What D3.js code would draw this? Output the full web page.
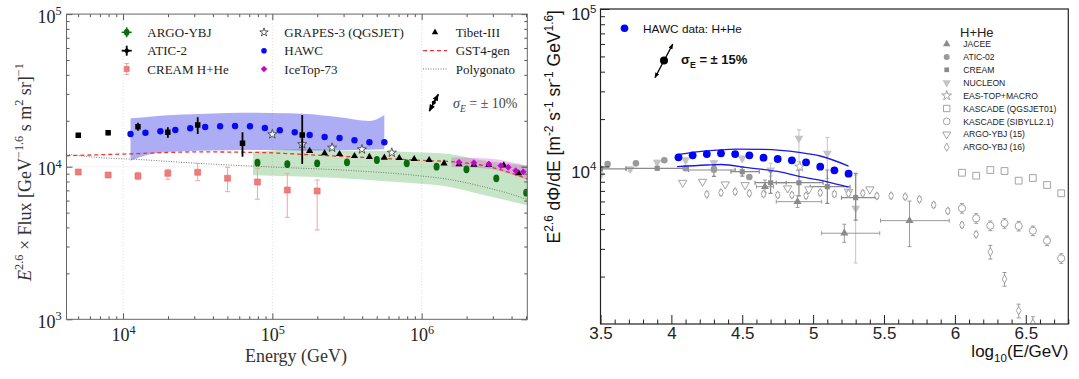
<!DOCTYPE html>
<html>
<head>
<meta charset="utf-8">
<script src="https://cdn.jsdelivr.net/npm/d3@7/dist/d3.min.js"></script>
<style>
  body { margin: 0; background: #fff; }
  svg { display: block; }
  text { white-space: pre; }
</style>
</head>
<body>
<svg id="fig" width="1079" height="379"></svg>
<script>
/* ------- LEFT PANEL DATA (log10 E/GeV, E^2.6 x flux) ------- */
var hawcLE     = [4.05,4.15,4.25,4.35,4.45,4.55,4.65,4.75,4.85,4.95,5.05,5.15,5.25,5.35,5.45,5.55,5.65,5.75];
var hawcFlux   = [16370,16700,17060,17400,17850,18200,18390,18480,18390,17930,17320,16810,16130,15650,15420,14890,14450,14450];
var hawcBandLE = [4.05,4.16,4.3,4.51,4.7,4.89,5.1,5.23,5.45,5.65,5.75];
var hawcBandUp = [20750,21200,21700,22150,22500,22580,22400,22150,21080,19930,21820];
var hawcBandLo = [10940,11930,12500,12730,12800,12860,12800,12730,12800,12900,13000];

var aticLE   = [3.7,3.9,4.1,4.3,4.5,4.8,5.2];
var aticFlux = [16060,16710,18280,16810,18760,14230,16130];
var aticLo   = [15500,16100,17200,15480,16370,11630,10420];
var aticHi   = [16600,17300,19400,18120,21050,16810,21820];

var creamLE   = [3.7,3.9,4.1,4.3,4.5,4.7,4.9,5.1,5.3];
var creamFlux = [9230,8820,8690,9050,9190,8400,7940,7030,6930];
var creamLo   = [8950,8550,8270,8270,8100,6860,6120,4660,3850];
var creamHi   = [9500,9100,9130,9610,10510,9910,9760,9050,8180];

var argoLE     = [4.9,5.1,5.3,5.5,5.7,5.9,6.1,6.3,6.5,6.7];
var argoFlux   = [10620,10410,10520,10690,11060,10520,10000,9610,8390,6760];
var argoBandLE = [4.87,5.25,5.49,5.71,5.95,6.18,6.41,6.71];
var argoBandUp = [12540,13060,12730,12730,12420,12110,10980,10200];
var argoBandLo = [8790,8590,8380,8100,7780,7400,6550,5590];

var tibetLE   = [5.25,5.35,5.45,5.55,5.65,5.75,5.85,5.95,6.05,6.15,6.25,6.35,6.45,6.55,6.65];
var tibetFlux = [12680,12250,12110,11750,11580,11460,11400,11230,11060,10520,10400,10300,10250,10210,9050];

var grapesLE   = [5.0,5.2,5.4,5.6,5.8];
var grapesFlux = [16310,14040,13330,13000,12360];

var icetopLE     = [6.25,6.35,6.45,6.53,6.58,6.63,6.68];
var icetopFlux   = [10690,10620,10410,10150,9910,9420,9270];
var icetopBandLE = [6.2,6.45,6.6,6.71];
var icetopBandUp = [11500,11300,10700,10100];
var icetopBandLo = [10000,9700,8900,8200];

var gstLE   = [3.62,4.0,4.5,4.9,5.3,5.7,6.0,6.25,6.45,6.57,6.71];
var gstFlux = [11800,12100,12500,12400,11900,11400,11000,10700,10000,9300,8300];

var polyLE   = [3.62,3.8,4.1,4.56,5.0,5.5,5.95,6.2,6.41,6.6,6.71];
var polyFlux = [12100,11550,11150,10440,9950,9470,8790,8200,7400,6600,6080];

var leftXTicks = [1e4,1e5,1e6];
var leftYTicks = [1e3,1e4,1e5];

/* ------- RIGHT PANEL DATA (log10 E/GeV, E^2.6 dPhi/dE) ------- */
var rHawcLE   = [4.05,4.15,4.25,4.35,4.45,4.55,4.65,4.75,4.85,4.95,5.05,5.15,5.25];
var rHawcFlux = [11440,11780,12000,12130,12000,11780,11370,11160,10950,10630,9970,9460,9000];
var rHawcUpLE = [4.04,4.25,4.45,4.65,4.9,5.05,5.25];
var rHawcUp   = [11900,12550,12900,12850,12300,11660,10070];
var rHawcLoLE = [4.04,4.25,4.35,4.55,4.75,4.9,5.1,5.25];
var rHawcLo   = [9970,10220,10300,9800,9300,8650,8000,7400];

var rJaceeLE   = [4.66,4.89,5.22,5.68];
var rJaceeFlux = [7450,5980,3770,4530];
var rJaceeXlo  = [4.6,4.74,5.06,5.475];
var rJaceeXhi  = [4.72,5.06,5.47,5.96];
var rJaceeYlo  = [6800,5500,3300,3100];
var rJaceeYhi  = [8200,6500,4300,6030];

var rAticLE   = [3.55,3.75,3.95,4.1,4.3,4.55];
var rAticFlux = [10370,10470,10950,9740,9640,8580];

var rCreamLE   = [3.5,3.9,4.3,4.5,4.7,4.9,5.1,5.3];
var rCreamFlux = [9650,9740,9500,9270,7890,7890,7450,6340];
var rCreamXlo  = [3.5,3.68,4.12,4.42,4.59,4.74,4.98,5.2];
var rCreamXhi  = [3.68,4.12,4.45,4.62,4.81,5.07,5.26,5.45];
var rCreamYlo  = [9400,9500,8650,8700,6760,6500,5840,4570];
var rCreamYhi  = [9900,10000,10200,9900,9270,9500,9500,9050];

var rNucLE   = [3.5,3.71,3.9,4.1,4.3,4.5,4.7,4.9,5.1,5.3];
var rNucFlux = [8830,9640,10630,10990,10570,11270,9500,15100,12130,5430];
var rNucYlo  = [8500,9300,10300,10650,10250,10900,8700,10700,8400,2440];
var rNucYhi  = [9150,9950,10950,11350,10900,11650,10500,17100,15300,8830];

var rEasLE   = [4.906];
var rEasFlux = [9970];

var rKasQLE   = [6.05,6.15,6.25,6.35,6.45,6.55,6.65,6.75];
var rKasQFlux = [9130,8740,9500,9360,8130,8450,7630,6760];
var rKasSLE   = [6.05,6.15,6.25,6.35,6.45,6.55,6.65,6.75];
var rKasSFlux = [5430,4690,4210,4360,4190,3910,3380,2610];

var rArgo15LE   = [4.08,4.22,4.38,4.52,4.82,4.97,5.25,5.4];
var rArgo15Flux = [7890,8010,7710,7630,7270,7170,6920,7170];

var rArgo16LE   = [4.25,4.35,4.45,4.55,4.65,4.75,4.85,4.95,5.05,5.15,5.25,5.35,5.45,5.55,5.65,5.75,5.85,5.95,6.05,6.15,6.25,6.35,6.45,6.55];
var rArgo16Flux = [6660,6820,6920,6760,6690,6590,6590,6520,6820,6690,6750,6760,6500,6520,6430,6190,5700,5220,4250,3710,2870,1930,1215,1010];

var rightXTicks = [3.5,4,4.5,5,5.5,6,6.5];
var rightYTicks = [1e4,1e5];
var rightLegend = ["JACEE","ATIC-02","CREAM","NUCLEON","EAS-TOP+MACRO","KASCADE (QGSJET01)","KASCADE (SIBYLL2.1)","ARGO-YBJ (15)","ARGO-YBJ (16)"];

/* ------- HELPERS ------- */
var SERIF = "'Liberation Serif','Times New Roman',serif";
var SANS  = "'Liberation Sans',Arial,Helvetica,sans-serif";

var svg = d3.select("#fig");
var defs = svg.append("defs");

function zip(a, b, c) { return a.map(function(v, i) { return c ? [v, b[i], c[i]] : [v, b[i]]; }); }

// text with super/subscripts: parts = [[string, "n"|"sup"|"sub", italic]]
function rich(t, parts, fs) {
  var off = 0;
  parts.forEach(function(p) {
    var kind = p[1] || "n";
    var target = kind === "sup" ? -0.42 * fs : (kind === "sub" ? 0.3 * fs : 0);
    var ts = t.append("tspan").text(p[0]).attr("dy", target - off);
    if (kind !== "n") ts.attr("font-size", 0.68 * fs);
    if (p[2]) ts.attr("font-style", "italic");
    off = target;
  });
}

function powLabels(sel, fs) {
  sel.selectAll(".tick text").each(function(d) {
    var t = d3.select(this), e = Math.round(Math.log10(d));
    t.text(null);
    t.append("tspan").text("10");
    t.append("tspan").attr("dy", -0.42 * fs).attr("font-size", 0.68 * fs).text(e);
  });
}

function symbols(g, xs, ys, type, size, fill, stroke, sw, rot) {
  g.append("g").selectAll("path").data(d3.range(xs.length)).join("path")
    .attr("d", d3.symbol().type(type).size(size))
    .attr("transform", function(i) { return "translate(" + xs[i] + "," + ys[i] + ")" + (rot ? " rotate(" + rot + ")" : ""); })
    .attr("fill", fill).attr("stroke", stroke).attr("stroke-width", sw);
}

function ellipses(g, xs, ys, rx, ry, fill) {
  g.append("g").selectAll("ellipse").data(d3.range(xs.length)).join("ellipse")
    .attr("cx", function(i) { return xs[i]; }).attr("cy", function(i) { return ys[i]; })
    .attr("rx", rx).attr("ry", ry).attr("fill", fill);
}

// error bars, pixel coords; any of x0/x1/y0/y1 may be missing
function errBars(g, pts, color, sw, cap) {
  var eg = g.append("g").attr("stroke", color).attr("stroke-width", sw);
  pts.forEach(function(p) {
    if (p.y0 != null) {
      eg.append("line").attr("x1", p.x).attr("x2", p.x).attr("y1", p.y0).attr("y2", p.y1);
      if (cap) [p.y0, p.y1].forEach(function(yy) {
        eg.append("line").attr("x1", p.x - cap).attr("x2", p.x + cap).attr("y1", yy).attr("y2", yy);
      });
    }
    if (p.x0 != null) {
      eg.append("line").attr("x1", p.x0).attr("x2", p.x1).attr("y1", p.y).attr("y2", p.y);
      if (cap) [p.x0, p.x1].forEach(function(xx) {
        eg.append("line").attr("x1", xx).attr("x2", xx).attr("y1", p.y - cap).attr("y2", p.y + cap);
      });
    }
  });
}

defs.append("marker").attr("id", "arr").attr("viewBox", "0 0 10 10")
  .attr("refX", 9).attr("refY", 5).attr("markerWidth", 4.5).attr("markerHeight", 4.5)
  .attr("orient", "auto-start-reverse")
  .append("path").attr("d", "M0,1L10,5L0,9z").attr("fill", "#000");

/* ------- LEFT PANEL ------- */
var L = {x0: 66.5, x1: 527.3, y0: 14.1, y1: 319.3};
var xL = d3.scaleLog().domain([4180, 5.1e6]).range([L.x0, L.x1]);
var yL = d3.scaleLog().domain([1e3, 1e5]).range([L.y1, L.y0]);
var pxL = function(le) { return xL(Math.pow(10, le)); };

defs.append("clipPath").attr("id", "clipL").append("rect")
  .attr("x", L.x0).attr("y", L.y0).attr("width", L.x1 - L.x0).attr("height", L.y1 - L.y0);

var gL = svg.append("g").attr("font-family", SERIF);
var plotL = gL.append("g").attr("clip-path", "url(#clipL)");

// faint grid
plotL.selectAll(".vg").data(leftXTicks).join("line")
  .attr("x1", function(d) { return xL(d); }).attr("x2", function(d) { return xL(d); })
  .attr("y1", L.y0).attr("y2", L.y1)
  .attr("stroke", "#d4d4d4").attr("stroke-width", 0.8).attr("stroke-dasharray", "1,2");
plotL.append("line").attr("x1", L.x0).attr("x2", L.x1).attr("y1", yL(1e4)).attr("y2", yL(1e4))
  .attr("stroke", "#d4d4d4").attr("stroke-width", 0.8).attr("stroke-dasharray", "1,2");

// bands
var bandL = d3.area().x(function(d) { return pxL(d[0]); })
  .y0(function(d) { return yL(d[2]); }).y1(function(d) { return yL(d[1]); })
  .curve(d3.curveMonotoneX);
plotL.append("path").datum(zip(argoBandLE, argoBandUp, argoBandLo)).attr("d", bandL)
  .attr("fill", "#2ca02c").attr("fill-opacity", 0.27);
plotL.append("path").datum(zip(hawcBandLE, hawcBandUp, hawcBandLo)).attr("d", bandL)
  .attr("fill", "#3b3be8").attr("fill-opacity", 0.42);
plotL.append("path").datum(zip(icetopBandLE, icetopBandUp, icetopBandLo)).attr("d", bandL)
  .attr("fill", "#cc33cc").attr("fill-opacity", 0.28);

// model lines
var lineL = d3.line().x(function(d) { return pxL(d[0]); }).y(function(d) { return yL(d[1]); })
  .curve(d3.curveMonotoneX);
plotL.append("path").datum(zip(polyLE, polyFlux)).attr("d", lineL)
  .attr("fill", "none").attr("stroke", "#777").attr("stroke-width", 1).attr("stroke-dasharray", "1,1.5");
plotL.append("path").datum(zip(gstLE, gstFlux)).attr("d", lineL)
  .attr("fill", "none").attr("stroke", "#ee3333").attr("stroke-width", 1.3).attr("stroke-dasharray", "4,3");

// CREAM
errBars(plotL, creamLE.map(function(le, i) {
  return {x: pxL(le), y: yL(creamFlux[i]), y0: yL(creamLo[i]), y1: yL(creamHi[i])};
}), "#f3a3a3", 1, 2.5);
symbols(plotL, creamLE.map(pxL), creamFlux.map(yL), d3.symbolSquare, 36, "#f07b7b", "#e86a6a", 0.6);

// ARGO-YBJ
errBars(plotL, argoLE.map(function(le, i) {
  return {x: pxL(le), y: yL(argoFlux[i]), y0: yL(argoFlux[i] * 0.95), y1: yL(argoFlux[i] * 1.05)};
}), "#0b6a0b", 1.4, 0);
ellipses(plotL, argoLE.map(pxL), argoFlux.map(yL), 3, 3.9, "#0b6a0b");

// HAWC
plotL.append("g").selectAll("circle").data(hawcLE).join("circle")
  .attr("cx", function(d) { return pxL(d); })
  .attr("cy", function(d, i) { return yL(hawcFlux[i]); })
  .attr("r", 3.2).attr("fill", "#0a0af0");

// Tibet-III
symbols(plotL, tibetLE.map(pxL), tibetFlux.map(yL), d3.symbolTriangle, 22, "#000", "none", 0);

// IceTop-73
symbols(plotL, icetopLE.map(pxL), icetopFlux.map(yL), d3.symbolDiamond2, 22, "#cc00cc", "#cc00cc", 0.8);

// GRAPES-3
symbols(plotL, grapesLE.map(pxL), grapesFlux.map(yL), d3.symbolStar, 26, "#fff", "#333", 0.8);

// ATIC-2
errBars(plotL, aticLE.map(function(le, i) {
  return {x: pxL(le), y: yL(aticFlux[i]), y0: yL(aticLo[i]), y1: yL(aticHi[i])};
}), "#000", 1.8, 0);
symbols(plotL, aticLE.map(pxL), aticFlux.map(yL), d3.symbolSquare, 30, "#000", "none", 0);

// legend
var legL = gL.append("g").attr("font-size", 13).attr("fill", "#222");
var rowsL = [32.3, 50.7, 69];
function legText(x, y, s) { legL.append("text").attr("x", x).attr("y", y + 4.5).text(s); }
// column 1
errBars(legL, [{x: 126.7, y: rowsL[0], x0: 121.7, x1: 131.7, y0: rowsL[0] - 5, y1: rowsL[0] + 5}], "#0b6a0b", 1.5, 0);
ellipses(legL, [126.7], [rowsL[0]], 2.8, 3.5, "#0b6a0b");
legText(147.3, rowsL[0], "ARGO-YBJ");
errBars(legL, [{x: 126.7, y: rowsL[1], x0: 121.7, x1: 131.7, y0: rowsL[1] - 5, y1: rowsL[1] + 5}], "#000", 1.8, 0);
symbols(legL, [126.7], [rowsL[1]], d3.symbolDiamond2, 24, "#000", "none", 0);
legText(147.3, rowsL[1], "ATIC-2");
errBars(legL, [{x: 126.7, y: rowsL[2], y0: rowsL[2] - 5.5, y1: rowsL[2] + 5.5}], "#f3a3a3", 1, 2.2);
symbols(legL, [126.7], [rowsL[2]], d3.symbolSquare, 26, "#f07b7b", "#e86a6a", 0.6);
legText(147.3, rowsL[2], "CREAM H+He");
// column 2
symbols(legL, [264], [rowsL[0]], d3.symbolStar, 22, "#fff", "#333", 0.8);
legText(284.3, rowsL[0], "GRAPES-3 (QGSJET)");
legL.append("circle").attr("cx", 264).attr("cy", rowsL[1]).attr("r", 2.8).attr("fill", "#0a0af0");
legText(284.3, rowsL[1], "HAWC");
symbols(legL, [264], [rowsL[2]], d3.symbolDiamond2, 20, "#cc00cc", "#cc00cc", 0.8);
legText(284.3, rowsL[2], "IceTop-73");
// column 3
symbols(legL, [435], [rowsL[0]], d3.symbolTriangle, 18, "#000", "none", 0);
legText(455.7, rowsL[0], "Tibet-III");
legL.append("line").attr("x1", 423).attr("x2", 447).attr("y1", rowsL[1]).attr("y2", rowsL[1])
  .attr("stroke", "#ee3333").attr("stroke-width", 1.3).attr("stroke-dasharray", "4,3");
legText(455.7, rowsL[1], "GST4-gen");
legL.append("line").attr("x1", 423).attr("x2", 447).attr("y1", rowsL[2]).attr("y2", rowsL[2])
  .attr("stroke", "#777").attr("stroke-width", 1).attr("stroke-dasharray", "1,1.5");
legText(455.7, rowsL[2], "Polygonato");

// energy resolution marker
gL.append("line").attr("x1", 429.3).attr("y1", 111).attr("x2", 438.3).attr("y2", 94.3)
  .attr("stroke", "#000").attr("stroke-width", 1.6)
  .attr("marker-start", "url(#arr)").attr("marker-end", "url(#arr)");
gL.append("circle").attr("cx", 433.8).attr("cy", 102.6).attr("r", 2).attr("fill", "#000");
var sigL = gL.append("text").attr("x", 453).attr("y", 108).attr("font-size", 14).attr("fill", "#444");
rich(sigL, [["σ", "n", true], ["E", "sub", true], [" = ± 10%", "n"]], 14);

// axes
var minorX = [], minorY = [];
[3, 4, 5, 6].forEach(function(e) {
  for (var k = 2; k <= 9; k++) {
    var v = k * Math.pow(10, e);
    if (v > 4180 && v < 5.1e6) minorX.push(v);
    if (v > 1e3 && v < 1e5) minorY.push(v);
  }
});

function styleAxis(a, fs, font) {
  a.select(".domain").remove();
  a.attr("color", "#555").attr("font-size", fs).attr("font-family", font);
  a.selectAll("text").attr("fill", "#222");
}

var axLB = gL.append("g").attr("transform", "translate(0," + L.y1 + ")")
  .call(d3.axisBottom(xL).tickValues(leftXTicks).tickSizeInner(-6).tickSizeOuter(0).tickPadding(9));
styleAxis(axLB, 18, SERIF); powLabels(axLB, 18);
var axLBm = gL.append("g").attr("transform", "translate(0," + L.y1 + ")")
  .call(d3.axisBottom(xL).tickValues(minorX).tickSizeInner(-3).tickSizeOuter(0).tickFormat(""));
styleAxis(axLBm, 10, SERIF);
var axLT = gL.append("g").attr("transform", "translate(0," + L.y0 + ")")
  .call(d3.axisTop(xL).tickValues(leftXTicks).tickSizeInner(-6).tickSizeOuter(0).tickFormat(""));
styleAxis(axLT, 10, SERIF);
var axLTm = gL.append("g").attr("transform", "translate(0," + L.y0 + ")")
  .call(d3.axisTop(xL).tickValues(minorX).tickSizeInner(-3).tickSizeOuter(0).tickFormat(""));
styleAxis(axLTm, 10, SERIF);

var axLL = gL.append("g").attr("transform", "translate(" + L.x0 + ",0)")
  .call(d3.axisLeft(yL).tickValues(leftYTicks).tickSizeInner(-6).tickSizeOuter(0).tickPadding(5));
styleAxis(axLL, 18, SERIF); powLabels(axLL, 18);
axLL.selectAll(".tick text").attr("dy", "0.45em");
var axLLm = gL.append("g").attr("transform", "translate(" + L.x0 + ",0)")
  .call(d3.axisLeft(yL).tickValues(minorY).tickSizeInner(-3).tickSizeOuter(0).tickFormat(""));
styleAxis(axLLm, 10, SERIF);
var axLR = gL.append("g").attr("transform", "translate(" + L.x1 + ",0)")
  .call(d3.axisRight(yL).tickValues(leftYTicks).tickSizeInner(-6).tickSizeOuter(0).tickFormat(""));
styleAxis(axLR, 10, SERIF);
var axLRm = gL.append("g").attr("transform", "translate(" + L.x1 + ",0)")
  .call(d3.axisRight(yL).tickValues(minorY).tickSizeInner(-3).tickSizeOuter(0).tickFormat(""));
styleAxis(axLRm, 10, SERIF);

gL.append("rect").attr("x", L.x0).attr("y", L.y0).attr("width", L.x1 - L.x0).attr("height", L.y1 - L.y0)
  .attr("fill", "none").attr("stroke", "#666").attr("stroke-width", 1);

gL.append("text").attr("x", 296).attr("y", 362).attr("text-anchor", "middle")
  .attr("font-size", 18).attr("fill", "#333").text("Energy (GeV)");
var ylabL = gL.append("text").attr("transform", "translate(31,172) rotate(-90)")
  .attr("text-anchor", "middle").attr("font-size", 18).attr("fill", "#333");
rich(ylabL, [["E", "n", true], ["2.6", "sup"], [" × Flux [GeV", "n"], ["−1.6", "sup"],
  [" s m", "n"], ["2", "sup"], [" sr]", "n"], ["−1", "sup"]], 18);

/* ------- RIGHT PANEL ------- */
var R = {x0: 600.5, x1: 1068.3, y0: 9, y1: 324};
var xR = d3.scaleLinear().domain([3.5, 6.8]).range([R.x0, R.x1]);
var yR = d3.scaleLog().domain([1e3, 1e5]).range([R.y1, R.y0]);

defs.append("clipPath").attr("id", "clipR").append("rect")
  .attr("x", R.x0).attr("y", R.y0).attr("width", R.x1 - R.x0).attr("height", R.y1 - R.y0);

var gR = svg.append("g").attr("font-family", SANS);
var plotR = gR.append("g").attr("clip-path", "url(#clipR)");

var greyDark = "#8a8a8a", greyMid = "#9a9a9a", greyLight = "#c4c4c4";

// NUCLEON
errBars(plotR, rNucLE.map(function(le, i) {
  return {x: xR(le), y: yR(rNucFlux[i]), y0: yR(rNucYlo[i]), y1: yR(rNucYhi[i])};
}), greyLight, 1, 2);
symbols(plotR, rNucLE.map(xR), rNucFlux.map(yR), d3.symbolTriangle, 34, greyLight, "none", 0, 180);

// CREAM
errBars(plotR, rCreamLE.map(function(le, i) {
  return {x: xR(le), y: yR(rCreamFlux[i]), x0: xR(rCreamXlo[i]), x1: xR(rCreamXhi[i]),
          y0: yR(rCreamYlo[i]), y1: yR(rCreamYhi[i])};
}), greyDark, 1.2, 2);
symbols(plotR, rCreamLE.map(xR), rCreamFlux.map(yR), d3.symbolSquare, 26, greyDark, "none", 0);

// JACEE
errBars(plotR, rJaceeLE.map(function(le, i) {
  return {x: xR(le), y: yR(rJaceeFlux[i]), x0: xR(rJaceeXlo[i]), x1: xR(rJaceeXhi[i]),
          y0: yR(rJaceeYlo[i]), y1: yR(rJaceeYhi[i])};
}), greyMid, 1, 2);
symbols(plotR, rJaceeLE.map(xR), rJaceeFlux.map(yR), d3.symbolTriangle, 28, greyDark, "none", 0);

// ATIC-02
errBars(plotR, rAticLE.map(function(le, i) {
  return {x: xR(le), y: yR(rAticFlux[i]), y0: yR(rAticFlux[i] * 0.96), y1: yR(rAticFlux[i] * 1.04)};
}), greyMid, 1, 0);
plotR.append("g").selectAll("circle").data(rAticLE).join("circle")
  .attr("cx", function(d) { return xR(d); }).attr("cy", function(d, i) { return yR(rAticFlux[i]); })
  .attr("r", 3.3).attr("fill", greyMid);

// ARGO-YBJ (15)
symbols(plotR, rArgo15LE.map(xR), rArgo15Flux.map(yR), d3.symbolTriangle, 30, "#fff", greyMid, 0.9, 180);

// ARGO-YBJ (16)
errBars(plotR, rArgo16LE.map(function(le, i) {
  var e = le > 6.2 ? 0.1 : 0.035;
  return {x: xR(le), y: yR(rArgo16Flux[i]), y0: yR(rArgo16Flux[i] * (1 - e)), y1: yR(rArgo16Flux[i] * (1 + e))};
}), greyMid, 1, 2);
symbols(plotR, rArgo16LE.map(xR), rArgo16Flux.map(yR), d3.symbolDiamond, 20, "#fff", greyMid, 0.9);

// KASCADE
errBars(plotR, rKasSLE.map(function(le, i) {
  return {x: xR(le), y: yR(rKasSFlux[i]), y0: yR(rKasSFlux[i] * 0.93), y1: yR(rKasSFlux[i] * 1.07)};
}), greyMid, 1, 2);
plotR.append("g").selectAll("circle").data(rKasSLE).join("circle")
  .attr("cx", function(d) { return xR(d); }).attr("cy", function(d, i) { return yR(rKasSFlux[i]); })
  .attr("r", 3.6).attr("fill", "#fff").attr("stroke", greyMid).attr("stroke-width", 0.9);
errBars(plotR, rKasQLE.map(function(le, i) {
  return {x: xR(le), y: yR(rKasQFlux[i]), y0: yR(rKasQFlux[i] * 0.96), y1: yR(rKasQFlux[i] * 1.04)};
}), greyMid, 1, 0);
symbols(plotR, rKasQLE.map(xR), rKasQFlux.map(yR), d3.symbolSquare, 46, "#fff", greyMid, 0.9);

// EAS-TOP+MACRO
symbols(plotR, rEasLE.map(xR), rEasFlux.map(yR), d3.symbolStar, 32, "#fff", greyMid, 0.9);

// HAWC
var lineR = d3.line().x(function(d) { return xR(d[0]); }).y(function(d) { return yR(d[1]); })
  .curve(d3.curveMonotoneX);
plotR.append("path").datum(zip(rHawcUpLE, rHawcUp)).attr("d", lineR)
  .attr("fill", "none").attr("stroke", "#1a1aee").attr("stroke-width", 1.3);
plotR.append("path").datum(zip(rHawcLoLE, rHawcLo)).attr("d", lineR)
  .attr("fill", "none").attr("stroke", "#1a1aee").attr("stroke-width", 1.3);
plotR.append("g").selectAll("circle").data(rHawcLE).join("circle")
  .attr("cx", function(d) { return xR(d); }).attr("cy", function(d, i) { return yR(rHawcFlux[i]); })
  .attr("r", 3.9).attr("fill", "#0000ff");

// legends
gR.append("circle").attr("cx", 624.5).attr("cy", 28.3).attr("r", 3.8).attr("fill", "#0000ff");
gR.append("text").attr("x", 643).attr("y", 32.5).attr("font-size", 11.8).attr("fill", "#111").text("HAWC data: H+He");

gR.append("line").attr("x1", 655).attr("y1", 77.6).attr("x2", 672.8).attr("y2", 44.1)
  .attr("stroke", "#000").attr("stroke-width", 1.2)
  .attr("marker-start", "url(#arr)").attr("marker-end", "url(#arr)");
gR.append("circle").attr("cx", 664).attr("cy", 60.5).attr("r", 4).attr("fill", "#000");
var sigR = gR.append("text").attr("x", 681).attr("y", 64).attr("font-size", 13)
  .attr("font-weight", "bold").attr("fill", "#111");
rich(sigR, [["σ", "n"], ["E", "sub"], [" = ± 15%", "n"]], 13);

gR.append("text").attr("x", 960).attr("y", 36.5).attr("font-size", 13).attr("fill", "#222").text("H+He");
var legR = gR.append("g").attr("font-size", 8.6).attr("fill", "#222");
var legRows = rightLegend.map(function(d, i) { return 44 + i * 12.9; });
legR.selectAll("text").data(rightLegend).join("text")
  .attr("x", 963.3).attr("y", function(d, i) { return legRows[i] + 3.1; }).text(function(d) { return d; });
var mx = 946.7;
symbols(legR, [mx], [legRows[0]], d3.symbolTriangle, 24, greyDark, "none", 0);
legR.append("circle").attr("cx", mx).attr("cy", legRows[1]).attr("r", 3).attr("fill", greyMid);
symbols(legR, [mx], [legRows[2]], d3.symbolSquare, 22, greyDark, "none", 0);
symbols(legR, [mx], [legRows[3]], d3.symbolTriangle, 30, greyLight, "none", 0, 180);
symbols(legR, [mx], [legRows[4]], d3.symbolStar, 30, "#fff", greyMid, 0.9);
symbols(legR, [mx], [legRows[5]], d3.symbolSquare, 40, "#fff", greyMid, 0.9);
legR.append("circle").attr("cx", mx).attr("cy", legRows[6]).attr("r", 3.4)
  .attr("fill", "#fff").attr("stroke", greyMid).attr("stroke-width", 0.9);
symbols(legR, [mx], [legRows[7]], d3.symbolTriangle, 28, "#fff", greyMid, 0.9, 180);
symbols(legR, [mx], [legRows[8]], d3.symbolDiamond, 20, "#fff", greyMid, 0.9);

// axes
var minorXR = d3.range(35, 69).map(function(d) { return d / 10; })
  .filter(function(d) { return rightXTicks.indexOf(d) < 0; });

var axRB = gR.append("g").attr("transform", "translate(0," + R.y1 + ")")
  .call(d3.axisBottom(xR).tickValues(rightXTicks).tickSizeInner(-9).tickSizeOuter(0)
    .tickPadding(3).tickFormat(String));
styleAxis(axRB, 17, SANS); axRB.attr("color", "#222");
var axRBm = gR.append("g").attr("transform", "translate(0," + R.y1 + ")")
  .call(d3.axisBottom(xR).tickValues(minorXR).tickSizeInner(-4.5).tickSizeOuter(0).tickFormat(""));
styleAxis(axRBm, 10, SANS); axRBm.attr("color", "#222");

var axRL = gR.append("g").attr("transform", "translate(" + R.x0 + ",0)")
  .call(d3.axisLeft(yR).tickValues(rightYTicks).tickSizeInner(-9).tickSizeOuter(0).tickPadding(4));
styleAxis(axRL, 17, SANS); axRL.attr("color", "#222"); powLabels(axRL, 17);
axRL.selectAll(".tick text").attr("dy", "0.62em");
var axRLm = gR.append("g").attr("transform", "translate(" + R.x0 + ",0)")
  .call(d3.axisLeft(yR).tickValues(minorY).tickSizeInner(-4.5).tickSizeOuter(0).tickFormat(""));
styleAxis(axRLm, 10, SANS); axRLm.attr("color", "#222");

gR.append("rect").attr("x", R.x0).attr("y", R.y0).attr("width", R.x1 - R.x0).attr("height", R.y1 - R.y0)
  .attr("fill", "none").attr("stroke", "#222").attr("stroke-width", 1.2);

var xlabR = gR.append("text").attr("x", R.x1).attr("y", 357).attr("text-anchor", "end")
  .attr("font-size", 17).attr("fill", "#111");
rich(xlabR, [["log", "n"], ["10", "sub"], ["(E/GeV)", "n"]], 17);

var ylabR = gR.append("text").attr("transform", "translate(560,10) rotate(-90)")
  .attr("text-anchor", "end").attr("font-size", 17.5).attr("fill", "#111");
rich(ylabR, [["E", "n"], ["2.6", "sup"], [" dΦ/dE [m", "n"], ["-2", "sup"], [" s", "n"], ["-1", "sup"],
  [" sr", "n"], ["-1", "sup"], [" GeV", "n"], ["1.6", "sup"], ["]", "n"]], 17.5);
</script>
</body>
</html>
